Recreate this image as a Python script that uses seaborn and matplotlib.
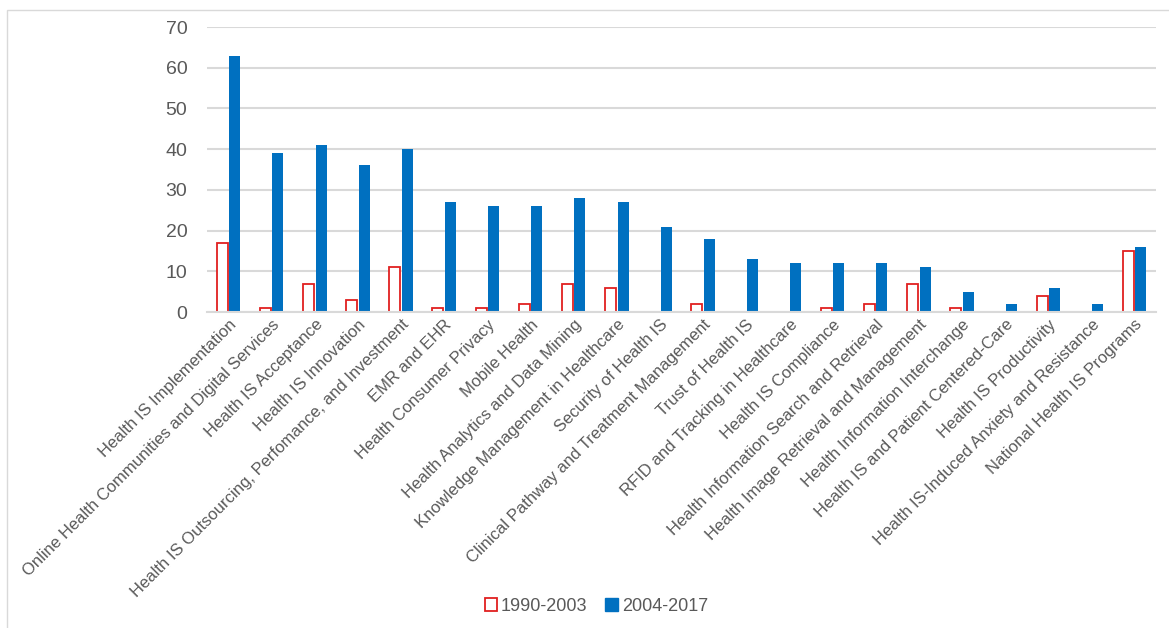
import matplotlib
matplotlib.use("Agg")
import matplotlib.pyplot as plt
from matplotlib.patches import Patch, Rectangle
import pandas as pd
import seaborn as sns

# Research topics and paper counts per period
topics = [
    "Health IS Implementation",
    "Online Health Communities and Digital Services",
    "Health IS Acceptance",
    "Health IS Innovation",
    "Health IS Outsourcing, Perfomance, and Investment",
    "EMR and EHR",
    "Health Consumer Privacy",
    "Mobile Health",
    "Health Analytics and Data Mining",
    "Knowledge Management in Healthcare",
    "Security of Health IS",
    "Clinical Pathway and Treatment Management",
    "Trust of Health IS",
    "RFID and Tracking in Healthcare",
    "Health IS Compliance",
    "Health Information Search and Retrieval",
    "Health Image Retrieval and Management",
    "Health Information Interchange",
    "Health IS and Patient Centered-Care",
    "Health IS Productivity",
    "Health IS-Induced Anxiety and Resistance",
    "National Health IS Programs",
]
counts_1990_2003 = [17, 1, 7, 3, 11, 1, 1, 2, 7, 6, 0, 2, 0, 0, 1, 2, 7, 1, 0, 4, 0, 15]
counts_2004_2017 = [63, 39, 41, 36, 40, 27, 26, 26, 28, 27, 21, 18, 13, 12, 12, 12, 11, 5, 2, 6, 2, 16]
periods = ["1990-2003", "2004-2017"]

RED = "#E02020"
BLUE = "#0070C0"
TEXT = "#595959"
GRID = "#D9D9D9"

df = pd.DataFrame({
    "topic": topics * 2,
    "period": [periods[0]] * len(topics) + [periods[1]] * len(topics),
    "count": counts_1990_2003 + counts_2004_2017,
})

sns.set_style("white")
plt.rcParams["font.family"] = ["Liberation Sans", "DejaVu Sans"]

fig = plt.figure(figsize=(11.69, 6.28), dpi=100)
ax = fig.add_axes([0.177, 0.503, 0.812, 0.454])

sns.barplot(
    data=df, x="topic", y="count", hue="period", order=topics,
    hue_order=periods, palette=[RED, BLUE], saturation=1,
    width=0.58, gap=0.12, legend=False, ax=ax,
)

# first period drawn as hollow red outlines
for patch in ax.containers[0]:
    patch.set_facecolor("white")
    patch.set_edgecolor(RED)
    patch.set_linewidth(1.3 if patch.get_height() > 0 else 0)
for patch in ax.containers[1]:
    patch.set_linewidth(0)

ax.set_ylim(0, 70)
ax.set_yticks(range(0, 71, 10))
ax.set_xlim(-0.5, len(topics) - 0.5)
ax.yaxis.grid(True, color=GRID, linewidth=1.5)
ax.set_axisbelow(True)
ax.set_xlabel("")
ax.set_ylabel("")
sns.despine(ax=ax, left=True)
ax.spines["bottom"].set_color(GRID)
ax.spines["bottom"].set_linewidth(1.5)
ax.tick_params(axis="both", length=0, colors=TEXT)
ax.tick_params(axis="y", labelsize=14, pad=14)
ax.set_xticks(range(len(topics)))
ax.set_xticklabels(topics, rotation=45, ha="right", rotation_mode="anchor",
                   fontsize=12, color=TEXT)

handles = [
    Patch(facecolor="white", edgecolor=RED, linewidth=1.3, label=periods[0]),
    Patch(facecolor=BLUE, edgecolor=BLUE, label=periods[1]),
]
fig.legend(handles=handles, loc="lower center", bbox_to_anchor=(0.51, -0.005),
           ncol=2, frameon=False, fontsize=13, handlelength=0.7,
           handleheight=0.7, handletextpad=0.2, columnspacing=1.0,
           labelcolor=TEXT)

# light frame around the chart area
fig.patches.append(Rectangle((0.006, -0.01), 1.0, 0.994, transform=fig.transFigure,
                             fill=False, edgecolor="#D9D9D9", linewidth=1.0))

fig.savefig("out.png", dpi=100)
